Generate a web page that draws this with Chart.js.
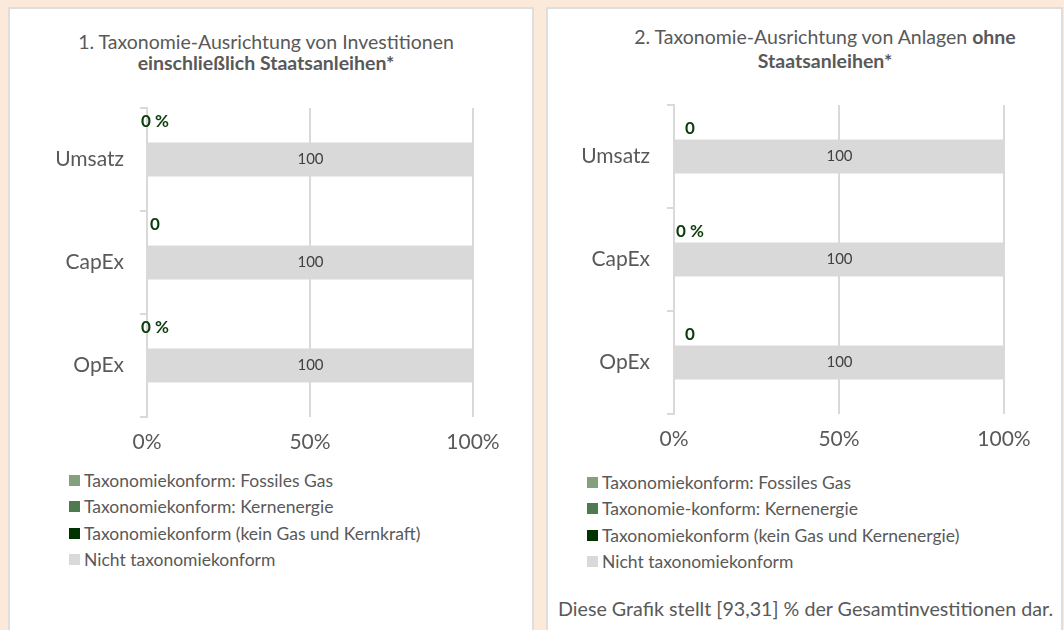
<!DOCTYPE html>
<html>
<head>
<meta charset="utf-8">
<script src="https://cdn.jsdelivr.net/npm/chart.js@4.4.1/dist/chart.umd.min.js"></script>
<style>
  body { margin: 0; width: 1064px; height: 630px; background: #fbe9d9; overflow: hidden;
         font-family: Lato, sans-serif; color: #595959; position: relative; }
  .panel { position: absolute; top: 7px; height: 640px; background: #fff;
           border: 2px solid #dedede; box-sizing: border-box; }
  .title { position: absolute; text-align: center; font-size: 19.5px; white-space: nowrap; }
  .cv { position: absolute; }
  .legend { position: absolute; font-size: 17.5px; }
  .legend .item { height: 26.5px; display: flex; align-items: center; white-space: nowrap; }
  .legend .box { width: 11px; height: 11px; margin-right: 4px; flex: none; }
  .foot { position: absolute; font-size: 19.7px; white-space: nowrap; }
</style>
</head>
<body>
<div class="panel" style="left:8px; width:526px;"></div>
<div class="panel" style="left:546px; width:517px;"></div>

<div class="title" style="left:16px; width:500px; top:31px; line-height:21px;">1. Taxonomie-Ausrichtung von Investitionen<br><b>einschließlich Staatsanleihen*</b></div>
<div class="title" style="left:575px; width:500px; top:25px; line-height:24px;">2. Taxonomie-Ausrichtung von Anlagen <b>ohne</b><br><b>Staatsanleihen*</b></div>

<div class="cv" style="left:8px; top:90px; width:525px; height:367px;"><canvas id="chart1"></canvas></div>
<div class="cv" style="left:547px; top:88px; width:507px; height:366px;"><canvas id="chart2"></canvas></div>

<div class="legend" id="legend1" style="left:69px; top:467px;"></div>
<div class="legend" id="legend2" style="left:587px; top:469px;"></div>

<div class="foot" style="left:558px; top:597px;">Diese Grafik stellt [93,31] % der Gesamtinvestitionen dar.</div>

<script>
const categories = ['Umsatz', 'CapEx', 'OpEx'];
const xTicks = [0, 50, 100];

const seriesNames1 = ['Taxonomiekonform: Fossiles Gas', 'Taxonomiekonform: Kernenergie',
                      'Taxonomiekonform (kein Gas und Kernkraft)', 'Nicht taxonomiekonform'];
const seriesNames2 = ['Taxonomiekonform: Fossiles Gas', 'Taxonomie-konform: Kernenergie',
                      'Taxonomiekonform (kein Gas und Kernenergie)', 'Nicht taxonomiekonform'];
const seriesColors = ['#84a07c', '#4e7a50', '#003300', '#d9d9d9'];

// chart 1: including sovereign bonds
const gas1 = [0, 0, 0];
const nuclear1 = [0, 0, 0];
const conform1 = [0, 0, 0];
const notConform1 = [100, 100, 100];
const conformLabels1 = ['0 %', '0', '0 %'];

// chart 2: without sovereign bonds
const gas2 = [0, 0, 0];
const nuclear2 = [0, 0, 0];
const conform2 = [0, 0, 0];
const notConform2 = [100, 100, 100];
const conformLabels2 = ['0', '0 %', '0'];

// value labels: "100" inside the grey bar, the green share above the bar
const barLabels = {
  id: 'barLabels',
  afterDatasetsDraw(chart, args, opts) {
    const ctx = chart.ctx;
    ctx.save();
    ctx.textAlign = 'center';
    ctx.textBaseline = 'middle';
    ctx.font = '15px Lato';
    ctx.fillStyle = '#404040';
    chart.getDatasetMeta(3).data.forEach((bar, i) => {
      const p = bar.getProps(['x', 'y', 'base'], true);
      ctx.fillText(chart.data.datasets[3].data[i], (p.x + p.base) / 2, p.y);
    });
    ctx.font = 'bold 17px Lato';
    ctx.fillStyle = '#0b3d0b';
    chart.getDatasetMeta(2).data.forEach((bar, i) => {
      const p = bar.getProps(['x', 'y', 'height'], true);
      ctx.fillText(opts.labels[i], p.x + opts.dx, p.y - p.height / 2 - opts.dy);
    });
    ctx.restore();
  }
};

// no automatic padding for overhanging tick labels, layout padding decides
function noAutoPad(s) {
  s.paddingTop = 0; s.paddingBottom = 0; s.paddingLeft = 0; s.paddingRight = 0;
}

function makeChart(id, names, series, labels, axisWidth, labelPad, pad, dx, dy) {
  return new Chart(document.getElementById(id), {
    type: 'bar',
    data: {
      labels: categories,
      datasets: series.map((d, i) => ({
        label: names[i],
        data: d,
        backgroundColor: seriesColors[i],
        categoryPercentage: 1,
        barPercentage: 0.33
      }))
    },
    options: {
      indexAxis: 'y',
      responsive: true,
      maintainAspectRatio: false,
      animation: false,
      layout: { padding: pad },
      plugins: {
        legend: { display: false },
        tooltip: { enabled: false },
        barLabels: { labels: labels, dx: dx, dy: dy }
      },
      scales: {
        x: {
          stacked: true,
          min: 0,
          max: 100,
          afterBuildTicks: (s) => { s.ticks = xTicks.map(v => ({ value: v })); },
          afterFit: (s) => { s.height = 40; noAutoPad(s); },
          grid: { color: '#d9d9d9', lineWidth: 2, drawTicks: false },
          border: { display: false },
          ticks: {
            padding: 13,
            color: '#595959',
            font: { family: 'Lato', size: 21 },
            callback: (v) => v + '%'
          }
        },
        y: {
          stacked: true,
          afterFit: (s) => { s.width = axisWidth; noAutoPad(s); },
          grid: { color: '#d9d9d9', lineWidth: 2, drawOnChartArea: false, tickLength: 7 },
          border: { color: '#d9d9d9', width: 2 },
          ticks: { padding: labelPad, color: '#595959', font: { family: 'Lato', size: 21 } }
        }
      }
    },
    plugins: [barLabels]
  });
}

function makeLegend(id, chart) {
  const box = document.getElementById(id);
  chart.data.datasets.forEach(ds => {
    const row = document.createElement('div');
    row.className = 'item';
    row.innerHTML = '<span class="box" style="background:' + ds.backgroundColor + '"></span>' + ds.label;
    box.appendChild(row);
  });
}

const chart1 = makeChart('chart1', seriesNames1, [gas1, nuclear1, conform1, notConform1],
  conformLabels1, 139, 16, { top: 18, right: 60, left: 0, bottom: 0 }, 8, 21);
const chart2 = makeChart('chart2', seriesNames2, [gas2, nuclear2, conform2, notConform2],
  conformLabels2, 127, 17, { top: 17, right: 50, left: 0, bottom: 0 }, 16, 11);

makeLegend('legend1', chart1);
makeLegend('legend2', chart2);
</script>
</body>
</html>
